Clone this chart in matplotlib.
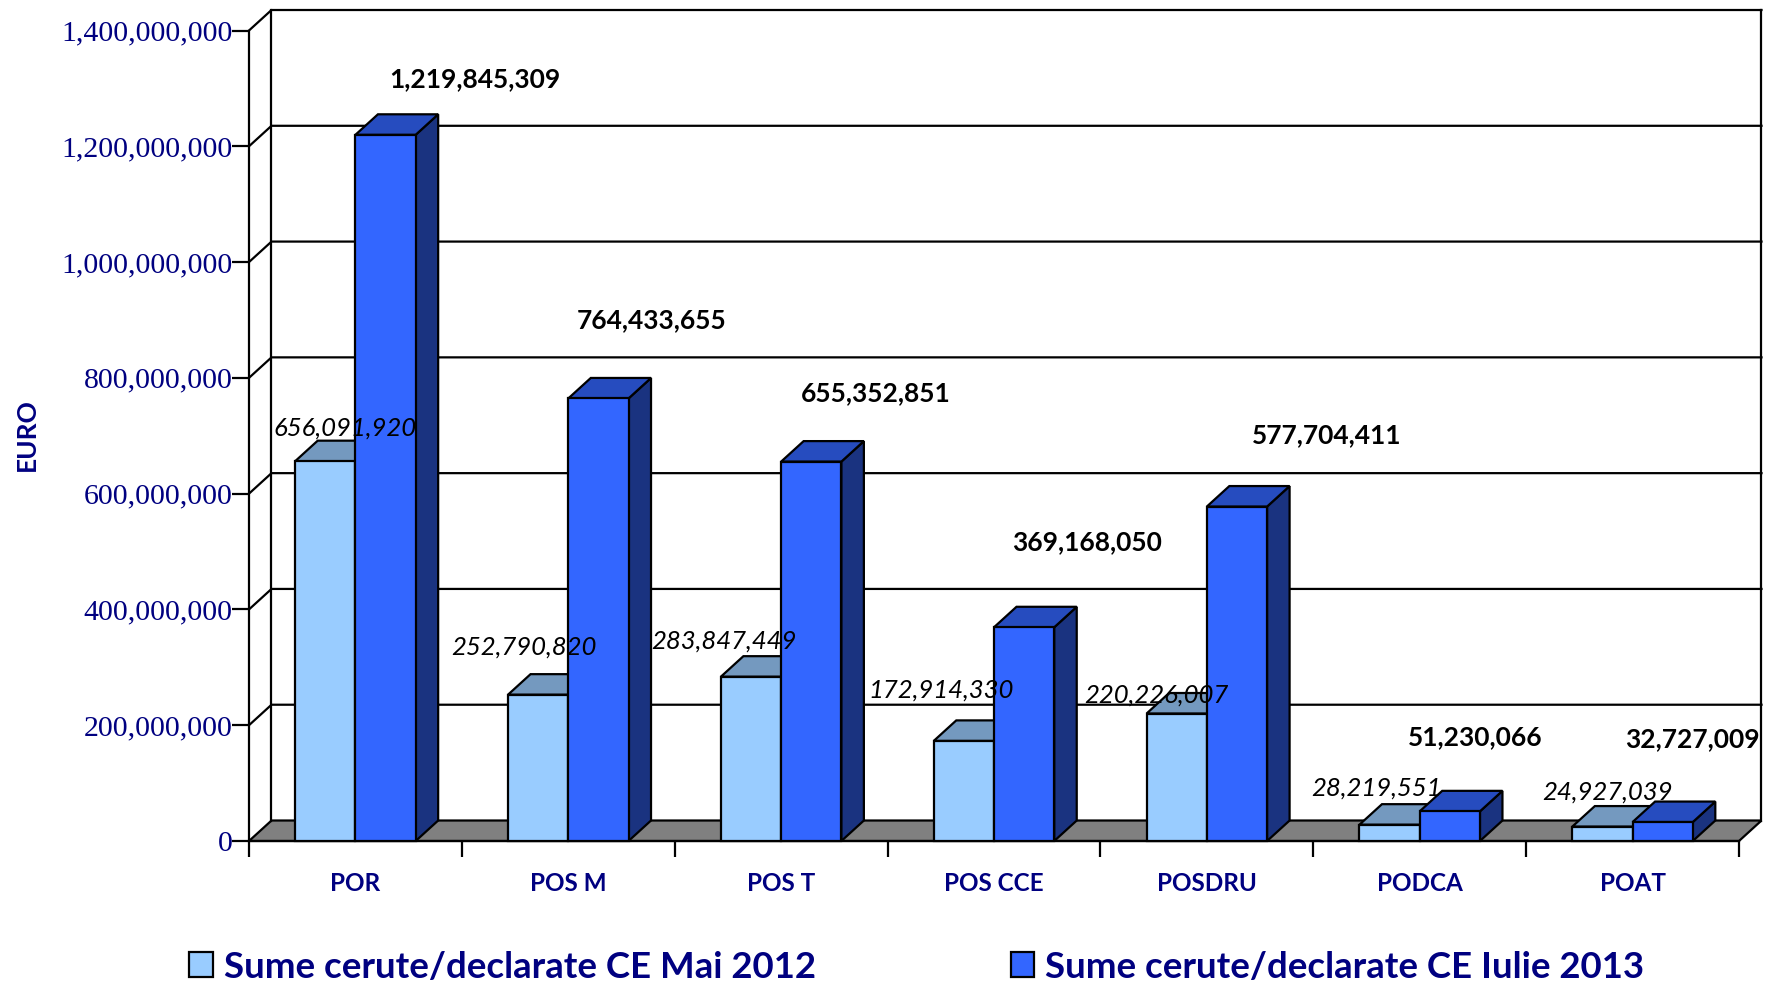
import matplotlib
matplotlib.use('Agg')
import matplotlib.pyplot as plt
from matplotlib.patches import Patch, Polygon

categories = ['POR', 'POS M', 'POS T', 'POS CCE', 'POSDRU', 'PODCA', 'POAT']
sume_2012 = [656091920, 252790820, 283847449, 172914330, 220226007, 28219551, 24927039]
sume_2013 = [1219845309, 764433655, 655352851, 369168050, 577704411, 51230066, 32727009]
y_ticks = [0, 200000000, 400000000, 600000000, 800000000, 1000000000, 1200000000, 1400000000]
legend_labels = ['Sume cerute/declarate CE Mai 2012', 'Sume cerute/declarate CE Iulie 2013']

# label offsets from the top middle of each bar, in pixels
offs_2012 = [(20, 33), (-14, 48), (-27, 36), (-23, 51), (-20, 18), (-13, 37), (5, 35)]
offs_2013 = [(89, 56), (53, 78), (64, 68), (63, 85), (90, 71), (25, 74), (30, 83)]

navy = '#000080'
plt.rcParams['font.family'] = ['Lato', 'DejaVu Sans']

W, H = 1774, 984
fig = plt.figure(figsize=(W/100, H/100), dpi=100)
ax = fig.add_axes([249/W, 1 - 841/H, 1490/W, 810.5/H])
ax.patch.set_visible(False)
ax.set_xlim(0, 7)
ax.set_ylim(0, 1.4e9)

dx, dy = 0.1057, 35.4e6
bw = 0.283
lw = 1.6


def box_faces(x0, v, color_top, color_side):
    x1 = x0 + bw
    ax.add_patch(Polygon([(x1, 0), (x1 + dx, dy), (x1 + dx, v + dy), (x1, v)], fc=color_side,
                         ec='k', lw=lw, zorder=3, clip_on=False))
    ax.add_patch(Polygon([(x0, v), (x1, v), (x1 + dx, v + dy), (x0 + dx, v + dy)], fc=color_top,
                         ec='k', lw=lw, zorder=3, clip_on=False))


# walls and floor
ax.add_patch(Polygon([(0, 0), (7, 0), (7 + dx, dy), (dx, dy)], fc='#808080', ec='k', lw=lw, zorder=1, clip_on=False))
ax.plot([dx, dx], [dy, 1.4e9 + dy], 'k', lw=lw, zorder=1.5, clip_on=False)
ax.plot([7 + dx, 7 + dx], [dy, 1.4e9 + dy], 'k', lw=lw, zorder=1.5, clip_on=False)
for t in y_ticks[1:]:
    ax.plot([0, dx, 7 + dx], [t, t + dy, t + dy], 'k', lw=lw, zorder=1.5, clip_on=False)

# bars, left to right
for i in range(len(categories)):
    x = i + 0.5
    box_faces(x - bw, sume_2012[i], '#7499BF', '#4C6680')
    ax.bar(x - bw, sume_2012[i], bw, align='edge', color='#99CCFF', ec='k', lw=lw, zorder=3, clip_on=False)
    box_faces(x, sume_2013[i], '#264CBF', '#1A3380')
    ax.bar(x, sume_2013[i], bw, align='edge', color='#3366FF', ec='k', lw=lw, zorder=3, clip_on=False)

for i in range(len(categories)):
    x = i + 0.5
    ax.annotate(f'{sume_2012[i]:,}', (x - bw/2, sume_2012[i]), xytext=offs_2012[i], textcoords='offset pixels',
                ha='center', va='center', fontsize=18.5, style='italic', color='k', zorder=5, annotation_clip=False)
    ax.annotate(f'{sume_2013[i]:,}', (x + bw/2, sume_2013[i]), xytext=offs_2013[i], textcoords='offset pixels',
                ha='center', va='center', fontsize=19, weight='bold', color='k', zorder=5, annotation_clip=False)

for s in ['top', 'right']:
    ax.spines[s].set_visible(False)
for s in ['left', 'bottom']:
    ax.spines[s].set_linewidth(lw)

ax.set_yticks(y_ticks)
ax.set_yticklabels([f'{t:,}' for t in y_ticks], family='Liberation Serif', fontsize=21.5, color=navy)
ax.tick_params(axis='y', length=12, width=lw, pad=0)
ax.set_xticks(range(8))
ax.set_xticklabels([])
ax.tick_params(axis='x', which='major', length=11.5, width=lw)
ax.set_xticks([i + 0.5 for i in range(len(categories))], minor=True)
ax.set_xticklabels(categories, minor=True, fontsize=17.5, weight='bold', color=navy)
ax.tick_params(axis='x', which='minor', length=0, pad=22)

ax.set_ylabel('EURO', fontsize=19, weight='bold', color=navy)
ax.yaxis.set_label_coords(-0.1413, 0.502)

handles = [Patch(fc='#99CCFF', ec='k', lw=lw), Patch(fc='#3366FF', ec='k', lw=lw)]
leg = fig.legend(handles, legend_labels, loc='center', bbox_to_anchor=(917/W, 1 - 967/H), ncol=2, frameon=False,
                 prop={'size': 26.4, 'weight': 'bold'}, labelcolor=navy, handlelength=0.65, handleheight=0.65,
                 handletextpad=0.3, columnspacing=5.3)

fig.savefig('out.png', dpi=100)
